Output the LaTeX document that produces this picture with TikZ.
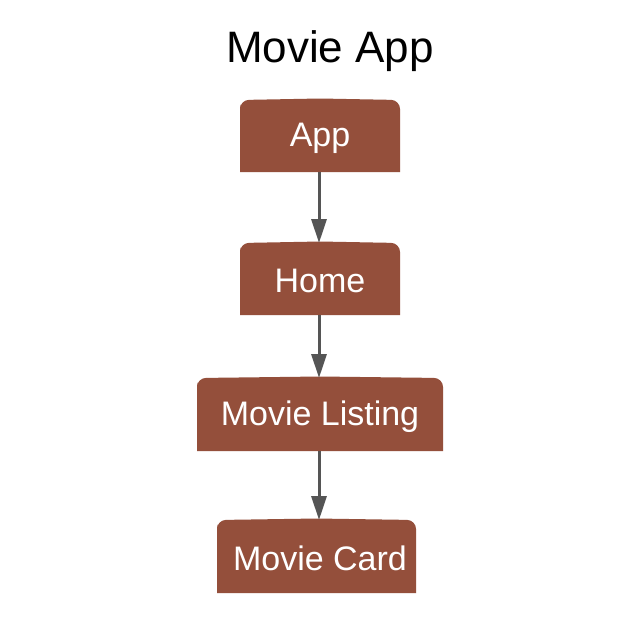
\documentclass[tikz,border=0pt]{standalone}
\usepackage{fontspec}
\setmainfont{Liberation Sans}
\usetikzlibrary{arrows.meta}
\definecolor{boxfill}{HTML}{944F3B}
\definecolor{arrowgray}{HTML}{555555}
\tikzset{
  compbox/.style={text=white, inner sep=0pt,
    font=\fontsize{34}{40}\selectfont},
  link/.style={draw=arrowgray, line width=3pt,
    -{Triangle[length=24pt, width=15pt]}}
}
\begin{document}
\begin{tikzpicture}[x=1pt, y=-1pt]
  \useasboundingbox (0,0) rectangle (644,619);
  \fill[white] (0,0) rectangle (644,619);
  % title
  \node[font=\fontsize{44}{50}\selectfont] (title) at (330,51) {Movie App};
  % component boxes: straight bottom, softly rounded top corners
  \newcommand{\compshape}[5]{%
    \fill[boxfill] (#1,#4) -- (#1,#3+4)
      [rounded corners=9pt] -- (#1,#3) -- ({(#1+#2)/2},#3-1.5) -- (#2,#3)
      [sharp corners] -- (#2,#4) -- cycle;
    \coordinate (#5) at ({(#1+#2)/2},{(#3+#4)/2+2});
    \coordinate (#5-n) at ({(#1+#2)/2},#3);
    \coordinate (#5-s) at ({(#1+#2)/2},#4);
  }
  \compshape{240}{400}{100}{172}{app}
  \compshape{240}{400}{243}{315}{home}
  \compshape{197}{443}{378}{451}{listing}
  \compshape{217}{416}{520}{593}{card}
  \node[compbox] (appt) at (app) {App};
  \node[compbox] (homet) at (home) {Home};
  \node[compbox] (listingt) at (listing) {Movie Listing};
  \node[compbox] (cardt) at ([xshift=3.5pt]card) {Movie Card};
  % connectors
  \draw[link] (app-s -| 319,0) -- (home-n -| 319,0);
  \draw[link] (home-s -| 319,0) -- (listing-n -| 319,0);
  \draw[link] (listing-s -| 319,0) -- (card-n -| 319,0);
\end{tikzpicture}
\end{document}
